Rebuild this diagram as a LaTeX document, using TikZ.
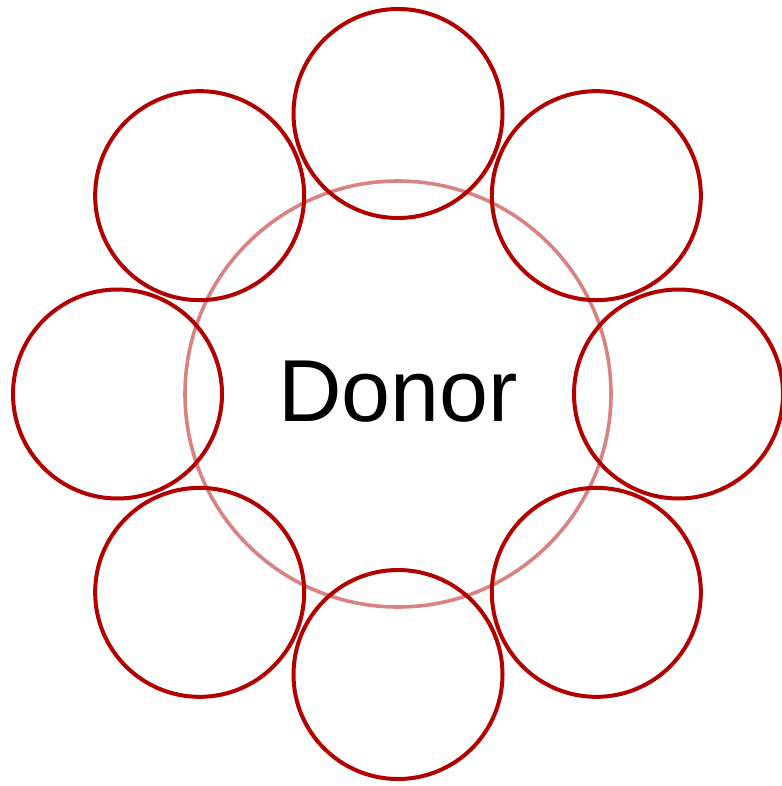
\documentclass[tikz,border=0pt]{standalone}
\usepackage{fontspec}
\setmainfont{Liberation Sans}
\definecolor{outerred}{HTML}{B20000}
\definecolor{innerpink}{HTML}{D98282}
\begin{document}
\begin{tikzpicture}[x=1pt,y=-1pt,
  outercirc/.style={draw=outerred,line width=4pt,circle,minimum size=209pt,inner sep=0pt},
  innercirc/.style={draw=innerpink,line width=3.6pt,circle,minimum size=426pt,inner sep=0pt}]
\useasboundingbox (0,0) rectangle (781,786);
\node[innercirc] (donor) at (398,394) {};
\node[font=\fontsize{88}{96}\selectfont] (label) at (398,392) {Donor};
\foreach \i/\a in {1/90,2/45,3/0,4/-45,5/-90,6/-135,7/180,8/135}{
  \node[outercirc,shift={(398,394)}] (c\i) at (\a:280.5) {};
}
\end{tikzpicture}
\end{document}
